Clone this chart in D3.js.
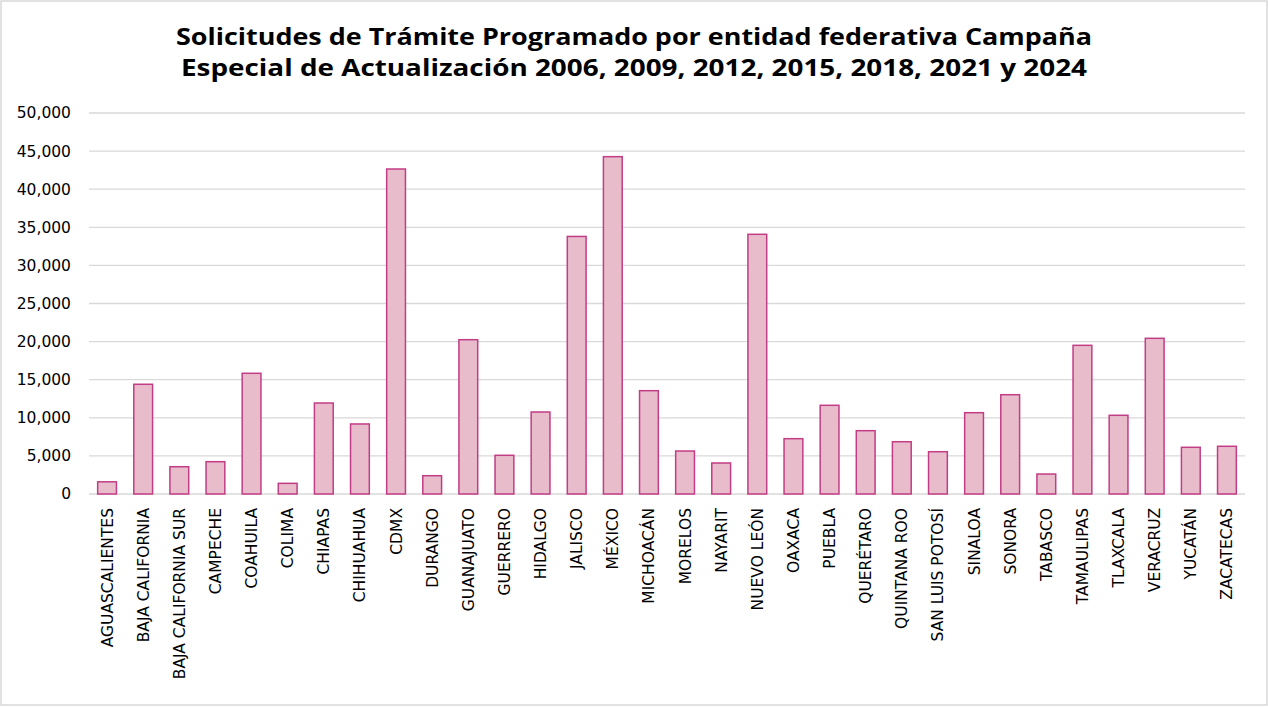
<!DOCTYPE html>
<html>
<head>
<meta charset="utf-8">
<script src="https://cdn.jsdelivr.net/npm/d3@7"></script>
<style>
  body { margin: 0; background: #fff; }
  .axisY .domain, .axisY line { display: none; }
  .axisX .domain, .axisX line { display: none; }
</style>
</head>
<body>
<div id="chart"></div>
<script>
// entidades federativas
const estados = ["AGUASCALIENTES", "BAJA CALIFORNIA", "BAJA CALIFORNIA SUR", "CAMPECHE", "COAHUILA",
    "COLIMA", "CHIAPAS", "CHIHUAHUA", "CDMX", "DURANGO", "GUANAJUATO", "GUERRERO", "HIDALGO",
    "JALISCO", "MÉXICO", "MICHOACÁN", "MORELOS", "NAYARIT", "NUEVO LEÓN", "OAXACA", "PUEBLA",
    "QUERÉTARO", "QUINTANA ROO", "SAN LUIS POTOSÍ", "SINALOA", "SONORA", "TABASCO", "TAMAULIPAS",
    "TLAXCALA", "VERACRUZ", "YUCATÁN", "ZACATECAS"];

// solicitudes
const solicitudes = [1600, 14400, 3580, 4240, 15840, 1400, 11940, 9190, 42650, 2400, 20250, 5080, 10760,
    33800, 44270, 13560, 5640, 4070, 34080, 7260, 11640, 8310, 6860, 5550, 10670, 13030, 2620, 19510,
    10330, 20430, 6130, 6260];

const yTicks = [0, 5000, 10000, 15000, 20000, 25000, 30000, 35000, 40000, 45000, 50000];

const titulo = ["Solicitudes de Trámite Programado por entidad federativa Campaña",
    "Especial de Actualización 2006, 2009, 2012, 2015, 2018, 2021 y 2024"];

const W = 1268, H = 707;
const margin = { top: 113, right: 23, bottom: 213, left: 89 };
const width = W - margin.left - margin.right;
const height = H - margin.top - margin.bottom;

const svg = d3.select("#chart").append("svg")
    .attr("width", W)
    .attr("height", H);

// marco
svg.append("rect")
    .attr("x", 1).attr("y", 1)
    .attr("width", W - 2).attr("height", H - 3)
    .attr("fill", "#fff")
    .attr("stroke", "#d9d9d9")
    .attr("stroke-width", 1.5);

const g = svg.append("g")
    .attr("transform", "translate(" + margin.left + "," + margin.top + ")");

const x = d3.scaleBand()
    .domain(estados)
    .range([0, width])
    .paddingInner(0.48)
    .paddingOuter(0.24);

const y = d3.scaleLinear()
    .domain([0, 50000])
    .range([height, 0]);

// rejilla
g.selectAll("line.grid")
    .data(yTicks)
    .enter()
    .append("line")
    .attr("class", "grid")
    .attr("x1", 0).attr("x2", width)
    .attr("y1", d => y(d)).attr("y2", d => y(d))
    .attr("stroke", "#d9d9d9")
    .attr("stroke-width", 1.3);

// eje Y
g.append("g")
    .attr("class", "axisY")
    .attr("transform", "translate(-7,0)")
    .call(d3.axisLeft(y).tickValues(yTicks).tickSize(0).tickPadding(11)
        .tickFormat(d3.format(",")))
    .selectAll("text")
    .style("font-family", "'DejaVu Sans', sans-serif")
    .style("font-size", "15.5px")
    .attr("fill", "#000");

// eje X
g.append("g")
    .attr("class", "axisX")
    .attr("transform", "translate(0," + height + ")")
    .call(d3.axisBottom(x).tickSize(0).tickPadding(0))
    .selectAll("text")
    .attr("transform", "rotate(-90)")
    .attr("x", -14)
    .attr("y", 0)
    .attr("dy", "0.35em")
    .style("text-anchor", "end")
    .style("font-family", "'DejaVu Sans', sans-serif")
    .style("font-size", "15.5px")
    .attr("fill", "#000");

// barras
g.selectAll("rect.bar")
    .data(estados)
    .enter()
    .append("rect")
    .attr("class", "bar")
    .attr("x", d => x(d))
    .attr("y", (d, i) => y(solicitudes[i]))
    .attr("width", x.bandwidth())
    .attr("height", (d, i) => height - y(solicitudes[i]))
    .attr("fill", "#e9bccb")
    .attr("stroke", "#c13d85")
    .attr("stroke-width", 1.5);

// título
svg.selectAll("text.titulo")
    .data(titulo)
    .enter()
    .append("text")
    .attr("class", "titulo")
    .attr("x", W / 2)
    .attr("y", (d, i) => 44.5 + i * 31)
    .attr("text-anchor", "middle")
    .style("font-family", "'Open Sans', sans-serif")
    .style("font-weight", "bold")
    .style("font-size", "23px")
    .attr("textLength", (d, i) => i === 0 ? 916 : 906)
    .attr("lengthAdjust", "spacingAndGlyphs")
    .text(d => d);
</script>
</body>
</html>
